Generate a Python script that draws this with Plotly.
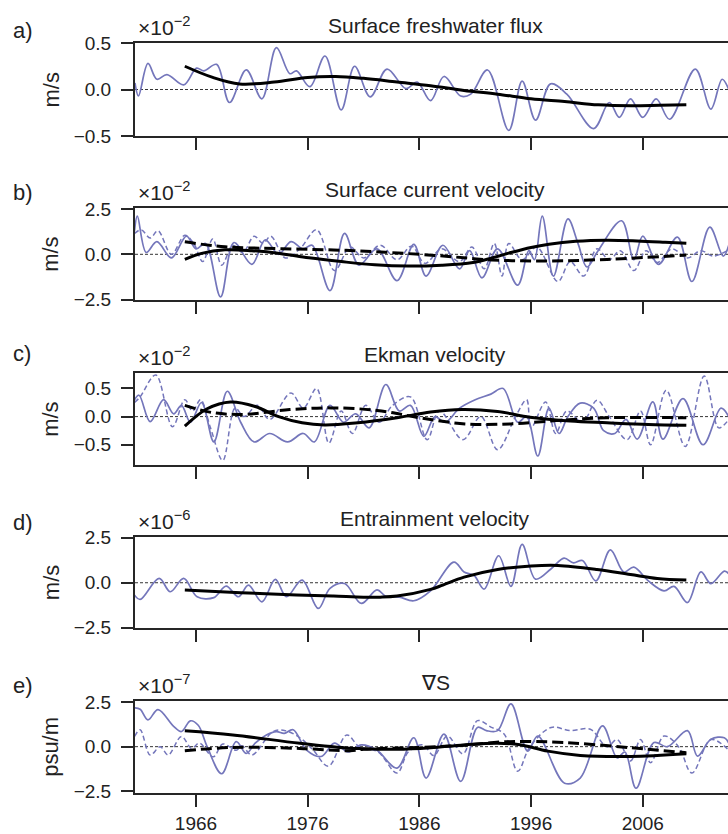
import plotly.graph_objects as go

# ---------------- data ----------------
# Panel a: Surface freshwater flux (x1e-2 m/s)
a_years = [1960.54, 1960.85, 1961.7, 1962.5, 1963.4, 1964.9, 1966.05, 1966.7, 1967.85, 1969.0,
           1970.5, 1971.9, 1973.2, 1974.4, 1975.0, 1976.2, 1977.55, 1979.0, 1980.2, 1981.6,
           1983.1, 1984.8, 1985.8, 1987.0, 1988.2, 1989.7, 1990.6, 1992.1, 1994.0, 1995.2,
           1996.4, 1997.75, 1999.2, 2001.6, 2003.0, 2003.9, 2004.9, 2006.0, 2007.2, 2008.4,
           2010.7, 2012.1, 2013.1, 2013.7]
a_solid = [0.07, -0.07, 0.28, 0.11, 0.16, 0.05, 0.23, 0.20, 0.27, -0.14,
           0.21, -0.10, 0.45, 0.17, 0.20, 0.03, 0.36, -0.22, 0.25, -0.08,
           0.22, 0.01, 0.08, -0.12, 0.14, -0.07, -0.05, 0.21, -0.44, 0.09,
           -0.33, 0.06, -0.05, -0.42, -0.14, -0.30, -0.10, -0.30, -0.10, -0.32,
           0.22, -0.21, 0.11, 0.0]
a_trend_years = [1965.0, 1967.5, 1969.9, 1973.0, 1976.0, 1978.5, 1981.0, 1984.0, 1987.0, 1990.0,
                 1993.0, 1996.0, 1999.0, 2002.0, 2005.0, 2007.5, 2009.9]
a_trend = [0.25, 0.13, 0.06, 0.08, 0.13, 0.14, 0.12, 0.08, 0.04, -0.01,
           -0.05, -0.10, -0.13, -0.165, -0.175, -0.17, -0.165]

# Panel b: Surface current velocity (x1e-2 m/s)
b_years = [1960.5, 1960.75, 1961.55, 1962.5, 1963.8, 1965.15, 1966.0, 1966.85, 1968.2, 1969.4,
           1971.0, 1972.2, 1973.4, 1974.5, 1975.6, 1976.4, 1978.0, 1979.3, 1980.6, 1982.2,
           1984.0, 1985.5, 1986.6, 1988.1, 1989.6, 1990.5, 1991.6, 1993.0, 1994.8, 1995.8,
           1996.3, 1997.0, 1998.0, 1999.3, 2000.2, 2001.0, 2002.0, 2004.1, 2005.2, 2006.0,
           2007.4, 2009.1, 2010.4, 2012.0, 2013.2, 2013.7]
b_solid = [1.3, 2.1, 0.1, 0.7, -0.2, 1.0, 0.3, 0.6, -2.35, 0.65,
           -0.55, 0.8, 0.0, 0.7, 0.3, 0.5, -2.0, 1.15, -0.6, 0.3,
           -1.45, 0.55, -1.2, 0.5, -0.8, 0.2, -1.3, 0.3, -1.7, 0.2,
           -0.3, 2.1, -1.2, 1.95, 0.6, -0.7, 0.2, 1.85, -0.3, 1.0,
           -0.55, 0.95, -1.5, 1.5, -0.1, 0.5]
b_dash_years = [1960.5, 1961.1, 1961.9, 1962.6, 1963.8, 1965.0, 1965.8, 1966.6, 1967.5, 1968.3,
                1969.3, 1970.2, 1971.2, 1972.0, 1972.7, 1974.0, 1975.3, 1976.8, 1978.4, 1979.8,
                1981.0, 1982.5, 1984.0, 1985.3, 1986.5, 1988.0, 1989.6, 1990.7, 1991.8, 1992.7,
                1993.4, 1994.0, 1995.2, 1996.5, 1998.4, 1999.5, 2000.7, 2001.9, 2003.0, 2004.0,
                2005.2, 2006.3, 2007.3, 2008.6, 2010.0, 2011.2, 2012.3, 2013.7]
b_dash = [1.15, 1.35, 0.9, 1.3, 0.0, 1.05, 0.6, -0.4, 0.85, -0.6,
          0.5, 0.1, 1.0, 0.6, 1.0, -0.2, 0.3, 1.35, -0.9, 0.4,
          -0.2, 0.5, -0.3, 0.45, -0.5, 0.3, -0.4, 0.4, -0.8, 0.6,
          -1.2, 0.6, -0.3, 0.4, -1.5, -0.4, -1.2, 0.3, -0.3, 0.2,
          -0.9, 0.2, -0.45, 0.3, -0.2, 0.2, -0.1, 0.25]
b_trend_years = [1965.0, 1966.5, 1968.6, 1971.0, 1973.5, 1976.1, 1979.0, 1982.0, 1985.0, 1988.0,
                 1990.8, 1992.5, 1994.2, 1996.0, 1997.6, 2000.0, 2002.8, 2005.5, 2008.0, 2009.9]
b_trend = [-0.28, 0.05, 0.25, 0.2, 0.05, -0.19, -0.4, -0.58, -0.65, -0.6,
           -0.45, -0.2, 0.1, 0.38, 0.56, 0.72, 0.78, 0.74, 0.67, 0.61]
b_trend2_years = [1965.0, 1968.6, 1973.7, 1980.5, 1987.4, 1992.5, 1997.6, 2002.8, 2009.9]
b_trend2 = [0.69, 0.41, 0.31, 0.19, -0.06, -0.31, -0.37, -0.28, -0.04]

# Panel c: Ekman velocity (x1e-2 m/s)
c_years = [1960.5, 1960.9, 1961.9, 1963.1, 1964.0, 1964.7, 1965.5, 1966.5, 1967.6, 1968.8,
           1970.0, 1971.2, 1972.6, 1974.2, 1975.6, 1976.6, 1978.0, 1979.2, 1980.3, 1981.5,
           1983.0, 1984.2, 1985.2, 1986.4, 1987.4, 1988.3, 1989.6, 1991.0, 1992.4, 1993.5,
           1994.8, 1995.6, 1996.6, 1997.6, 1998.5, 1999.3, 2000.4, 2001.6, 2002.5, 2003.5,
           2004.5, 2005.5, 2006.9, 2007.8, 2009.6, 2011.4, 2013.0, 2013.7]
c_solid = [0.3, 0.38, -0.09, 0.3, 0.05, 0.2, -0.1, 0.25, -0.45, 0.45,
           -0.1, -0.45, -0.3, -0.45, -0.3, -0.45, 0.2, -0.1, 0.05, -0.2,
           0.57, 0.1, 0.2, -0.35, 0.0, -0.1, 0.15, 0.3, 0.4, 0.5,
           -0.1, 0.0, -0.7, 0.15, -0.3, 0.0, 0.24, 0.15, -0.25, -0.3,
           -0.05, -0.4, 0.26, -0.4, 0.32, -0.5, 0.15, 0.0]
c_dash_years = [1960.5, 1961.0, 1962.4, 1963.9, 1965.0, 1965.7, 1966.4, 1967.3, 1968.4, 1969.5,
                1970.3, 1971.5, 1972.6, 1974.5, 1975.6, 1976.8, 1977.9, 1979.0, 1980.0, 1981.2,
                1982.4, 1983.6, 1985.2, 1986.7, 1987.8, 1989.9, 1991.5, 1993.0, 1994.6, 1995.6,
                1996.0, 1997.3, 1998.2, 1999.2, 2000.6, 2001.9, 2003.0, 2004.6, 2005.8, 2006.7,
                2008.1, 2009.8, 2011.5, 2012.8, 2013.7]
c_dash = [0.25, 0.35, 0.74, -0.18, 0.3, 0.1, 0.3, -0.2, -0.78, 0.15,
          0.0, 0.2, -0.05, 0.42, 0.15, 0.5, -0.47, 0.1, -0.3, 0.2,
          -0.1, 0.2, 0.35, -0.41, 0.1, -0.41, 0.0, -0.59, 0.0, 0.3,
          -0.2, 0.26, -0.3, 0.1, -0.1, 0.29, 0.0, -0.41, 0.1, -0.5,
          0.47, -0.53, 0.72, -0.2, -0.05]
c_trend_years = [1965.0, 1967.0, 1969.1, 1971.3, 1973.4, 1975.5, 1977.5, 1980.5, 1984.0, 1987.0,
                 1989.8, 1993.0, 1995.9, 1999.5, 2002.8, 2006.5, 2009.9]
c_trend = [-0.17, 0.14, 0.26, 0.18, 0.0, -0.11, -0.15, -0.11, -0.02, 0.08,
           0.125, 0.09, -0.01, -0.08, -0.11, -0.14, -0.155]
c_trend2_years = [1965.0, 1967.5, 1970.3, 1974.4, 1978.1, 1982.2, 1986.0, 1990.1, 1994.2, 1998.3,
                  2002.8, 2009.9]
c_trend2 = [0.2, 0.07, 0.04, 0.125, 0.155, 0.11, -0.02, -0.13, -0.13, -0.07, -0.02, -0.02]

# Panel d: Entrainment velocity (x1e-6 m/s)
d_years = [1960.5, 1961.0, 1962.7, 1963.7, 1964.9, 1966.1, 1967.6, 1968.7, 1969.8, 1970.7,
           1971.9, 1973.1, 1974.1, 1975.5, 1976.95, 1978.0, 1979.3, 1980.8, 1982.2, 1983.0,
           1984.2, 1985.5, 1987.0, 1989.1, 1990.0, 1990.9, 1991.8, 1993.1, 1994.2, 1995.2,
           1996.4, 1997.8, 1998.95, 1999.8, 2000.6, 2001.8, 2003.1, 2004.3, 2005.2, 2006.5,
           2007.9, 2008.8, 2010.0, 2011.2, 2012.1, 2013.3, 2013.7]
d_solid = [-0.69, -0.93, 0.24, -0.5, 0.24, -0.78, -0.83, -0.19, -0.78, -0.13,
           -1.06, 0.19, -0.78, 0.15, -1.43, -0.31, -0.04, -1.15, -0.4, -0.75,
           -0.8, -1.0, -0.45, 1.15, 0.6, 0.4, -0.35, 1.5, -0.2, 2.13,
           0.2, 0.78, 1.37, 1.1, 1.24, 0.1, 1.83, 0.6, 0.87, 0.1,
           -0.45, -0.2, -1.1, 0.6, -0.05, 0.65, 0.5]
d_trend_years = [1965.0, 1970.0, 1975.0, 1978.3, 1981.0, 1982.5, 1984.0, 1987.0, 1988.1, 1990.0,
                 1993.0, 1996.0, 1998.4, 2001.9, 2004.9, 2007.3, 2009.9]
d_trend = [-0.41, -0.55, -0.68, -0.74, -0.8, -0.8, -0.74, -0.37, -0.13, 0.31,
           0.74, 0.93, 0.96, 0.74, 0.46, 0.24, 0.15]

# Panel e: grad S (x1e-7 psu/m)
e_years = [1960.5, 1961.0, 1961.7, 1962.6, 1964.0, 1964.7, 1965.5, 1966.2, 1967.0, 1968.3,
           1969.6, 1970.5, 1971.3, 1972.3, 1973.2, 1973.9, 1974.7, 1975.9, 1977.2, 1978.4,
           1979.6, 1980.8, 1982.2, 1984.0, 1985.5, 1986.6, 1988.2, 1989.7, 1991.2, 1992.0,
           1993.0, 1994.2, 1995.7, 1996.6, 1999.0, 2000.4, 2002.4, 2003.7, 2004.4, 2005.4,
           2007.0, 2008.2, 2010.0, 2010.9, 2012.1, 2013.3, 2013.7]
e_solid = [2.18, 2.1, 1.5, 2.08, 1.14, 0.85, 1.45, 1.2, 0.0, -1.52,
           0.28, -0.38, 0.2, 0.66, 0.85, 0.75, 0.95, -0.19, -0.55, 0.2,
           -0.3, 0.1, -0.2, -1.2, 0.5, -1.76, 0.7, -1.95, 1.08, 0.9,
           0.9, 2.4, -0.25, 0.6, -2.05, -1.76, 1.17, -0.63, -0.3, -2.33,
           0.23, 0.0, 0.9, -0.53, 0.42, 0.5, 0.2]
e_dash_years = [1960.5, 1961.0, 1961.9, 1962.8, 1963.5, 1964.7, 1965.6, 1966.3, 1967.55, 1968.4,
                1969.6, 1970.1, 1971.0, 1972.9, 1974.0, 1975.3, 1976.5, 1977.85, 1979.5, 1980.6,
                1982.3, 1984.0, 1985.0, 1986.3, 1987.3, 1988.5, 1989.9, 1991.2, 1992.4, 1993.6,
                1994.8, 1995.9, 1997.8, 1999.5, 2001.3, 2002.8, 2003.7, 2004.9, 2005.8, 2006.7,
                2007.9, 2009.2, 2010.4, 2012.1, 2013.7]
e_dash = [0.57, 0.95, -0.47, 0.0, -0.47, 0.57, -0.1, 0.2, -0.57, 0.15,
          -0.2, 0.05, -0.47, 0.85, 0.9, 0.5, -0.2, -1.1, 0.66, 0.0,
          -0.3, -1.48, -0.3, 0.1, -0.5, 0.6, -0.4, 1.46, 1.1, 0.7,
          -1.38, 0.0, 1.08, 0.9, 0.98, 0.0, 0.4, -0.8, 0.4, -0.9,
          0.6, 0.0, -1.48, 0.4, -0.2]
e_trend_years = [1965.0, 1969.3, 1975.3, 1979.8, 1981.0, 1984.0, 1987.0, 1990.0, 1993.0, 1995.0,
                 1997.5, 2000.4, 2004.9, 2009.9]
e_trend = [0.89, 0.66, 0.19, -0.09, -0.11, -0.15, -0.06, 0.1, 0.19, 0.11,
           -0.25, -0.49, -0.55, -0.4]
e_trend2_years = [1965.0, 1969.3, 1975.3, 1979.8, 1981.0, 1987.0, 1990.0, 1993.9, 1999.0, 2004.9, 2009.9]
e_trend2 = [-0.23, -0.04, -0.1, -0.23, -0.15, -0.02, 0.08, 0.28, 0.23, -0.06, -0.34]

titles = ["Surface freshwater flux", "Surface current velocity", "Ekman velocity",
          "Entrainment velocity", "\u2207S"]
letters = ["a)", "b)", "c)", "d)", "e)"]
exponents = ["\u22122", "\u22122", "\u22122", "\u22126", "\u22127"]
units = ["m/s", "m/s", "m/s", "m/s", "psu/m"]
year_ticks = [1966, 1976, 1986, 1996, 2006]

# ---------------- layout helpers ----------------
W, H = 728, 834
L = 135
PW = W - L
tops = [43, 207.7, 372.7, 536.7, 700.7]
bots = [136, 300, 465, 627.7, 793]
yranges = [[-0.5, 0.5], [-2.52, 2.57], [-0.86, 0.78], [-2.5, 2.56], [-2.6, 2.58]]
yticks = [[-0.5, 0.0, 0.5], [-2.5, 0.0, 2.5], [-0.5, 0.0, 0.5], [-2.5, 0.0, 2.5], [-2.5, 0.0, 2.5]]
letter_y = [30, 192, 353, 522, 685]

def px(xp):
    return (xp - L) / PW

def py(yp):
    return 1 - yp / H

PURPLE = "#7476bb"
FONT = "Liberation Sans, Arial, sans-serif"
AX = "#262626"
TXT = "#222222"

fig = go.Figure()

panels = [
    dict(solid=(a_years, a_solid), dash=None, trend=(a_trend_years, a_trend), trend2=None),
    dict(solid=(b_years, b_solid), dash=(b_dash_years, b_dash), trend=(b_trend_years, b_trend),
         trend2=(b_trend2_years, b_trend2)),
    dict(solid=(c_years, c_solid), dash=(c_dash_years, c_dash), trend=(c_trend_years, c_trend),
         trend2=(c_trend2_years, c_trend2)),
    dict(solid=(d_years, d_solid), dash=None, trend=(d_trend_years, d_trend), trend2=None),
    dict(solid=(e_years, e_solid), dash=(e_dash_years, e_dash), trend=(e_trend_years, e_trend),
         trend2=(e_trend2_years, e_trend2)),
]

annotations = []
shapes = []
for i, p in enumerate(panels):
    n = i + 1
    xa = "x" if n == 1 else f"x{n}"
    ya = "y" if n == 1 else f"y{n}"
    if p["dash"] is not None:
        fig.add_trace(go.Scatter(x=p["dash"][0], y=p["dash"][1], mode="lines",
                                 line=dict(color=PURPLE, width=1.5, dash="5px,3px", shape="spline", smoothing=1.0),
                                 xaxis=xa, yaxis=ya, showlegend=False))
    fig.add_trace(go.Scatter(x=p["solid"][0], y=p["solid"][1], mode="lines",
                             line=dict(color=PURPLE, width=1.7, shape="spline", smoothing=1.0),
                             xaxis=xa, yaxis=ya, showlegend=False))
    if p["trend2"] is not None:
        fig.add_trace(go.Scatter(x=p["trend2"][0], y=p["trend2"][1], mode="lines",
                                 line=dict(color="black", width=3, dash="11px,5px", shape="spline", smoothing=1.0),
                                 xaxis=xa, yaxis=ya, showlegend=False))
    fig.add_trace(go.Scatter(x=p["trend"][0], y=p["trend"][1], mode="lines",
                             line=dict(color="black", width=3, shape="spline", smoothing=1.0),
                             xaxis=xa, yaxis=ya, showlegend=False))

    dom = [py(bots[i]), py(tops[i])]
    xkey = "xaxis" if n == 1 else f"xaxis{n}"
    ykey = "yaxis" if n == 1 else f"yaxis{n}"
    fig.update_layout(**{
        xkey: dict(domain=[0, 1], range=[1960.54, 2013.63], anchor=ya, automargin=False,
                   tickvals=year_ticks, ticks="outside", ticklen=12, tickwidth=1.8, tickcolor=AX,
                   showticklabels=(n == 5), showline=True, linecolor=AX, linewidth=2, mirror=True,
                   showgrid=False, zeroline=False, ticklabelstandoff=0,
                   tickfont=dict(size=19, color=TXT, family=FONT)),
        ykey: dict(domain=dom, range=yranges[i], anchor=xa, automargin=False,
                   tickvals=yticks[i], tickformat=".1f", ticks="outside", ticklen=12, tickwidth=1.8,
                   tickcolor=AX, showline=True, linecolor=AX, linewidth=2, mirror=False,
                   showgrid=False, zeroline=False, ticklabelstandoff=6,
                   tickfont=dict(size=19, color=TXT, family=FONT)),
    })
    shapes.append(dict(type="line", xref=f"{xa} domain", x0=0, x1=1, yref=ya, y0=0, y1=0,
                       line=dict(color="black", width=0.8, dash="3px,2px"), layer="below"))
    annotations.append(dict(text=titles[i], x=px(435), y=py(tops[i] - 18), xref="paper", yref="paper",
                            xanchor="center", yanchor="middle", showarrow=False,
                            font=dict(size=21, color=TXT, family=FONT)))
    annotations.append(dict(text=letters[i], x=px(11), y=py(letter_y[i]), xref="paper", yref="paper",
                            xanchor="left", yanchor="middle", showarrow=False,
                            font=dict(size=22, color=TXT, family=FONT)))
    annotations.append(dict(text="\u00d710<sup>" + exponents[i] + "</sup>", x=px(136), y=py(tops[i] - 2),
                            xref="paper", yref="paper", xanchor="left", yanchor="bottom", showarrow=False,
                            font=dict(size=21, color=TXT, family=FONT)))
    annotations.append(dict(text=units[i], x=px(51), y=py((tops[i] + bots[i]) / 2), xref="paper", yref="paper",
                            xanchor="center", yanchor="middle", textangle=-90, showarrow=False,
                            font=dict(size=22, color=TXT, family=FONT)))

fig.update_layout(width=W, height=H, margin=dict(l=L, r=0, t=0, b=0, autoexpand=False),
                  paper_bgcolor="white", plot_bgcolor="white",
                  annotations=annotations, shapes=shapes,
                  font=dict(family=FONT, color=TXT))

fig.write_html("out.html")
